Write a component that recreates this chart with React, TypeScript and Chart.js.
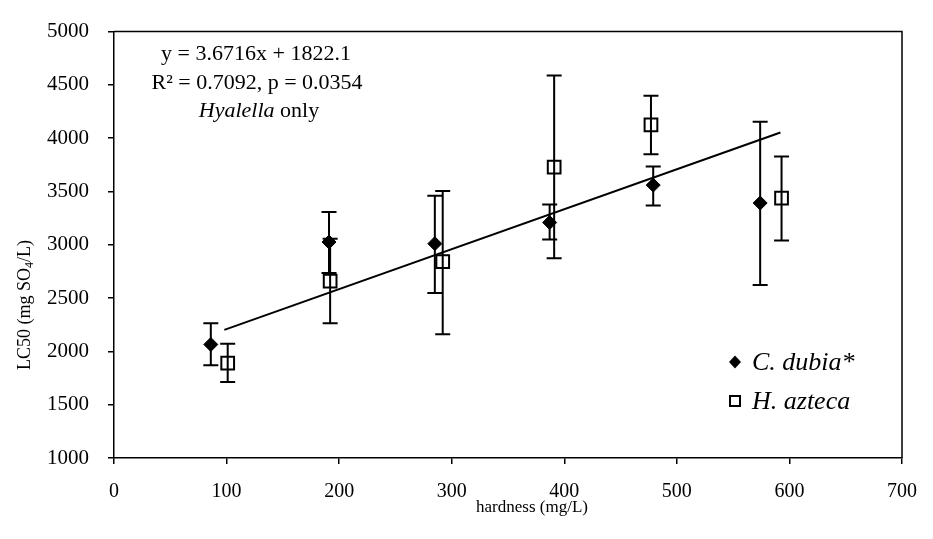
import React, { useEffect, useRef } from 'react';
import { Chart, registerables } from 'chart.js';

Chart.register(...registerables);

// ---- data ----
const dubiaHardness = [86, 191, 285, 387, 479, 574];
const dubiaLC50 = [2065, 3026, 3011, 3209, 3560, 3392];
const dubiaLow = [1870, 2736, 2547, 3050, 3368, 2623];
const dubiaHigh = [2263, 3307, 3460, 3377, 3734, 4155];

const aztecaHardness = [101, 192, 292, 391, 477, 593];
const aztecaLC50 = [1891, 2660, 2843, 3728, 4124, 3438];
const aztecaLow = [1714, 2263, 2162, 2874, 3849, 3041];
const aztecaHigh = [2071, 3057, 3505, 4588, 4399, 3828];

const trendHardness = [98, 592];
const trendLC50 = [2202, 4054];

const xTickValues = [0, 100, 200, 300, 400, 500, 600, 700];
const yTickValues = [1000, 1500, 2000, 2500, 3000, 3500, 4000, 4500, 5000];

const seriesNames = ['C. dubia*', 'H. azteca'];
const xTitle = 'hardness (mg/L)';
const eqLine = 'y = 3.6716x + 1822.1';
const r2Line = 'R\u00B2 = 0.7092, p = 0.0354';

const SERIF = '"Liberation Serif", "Times New Roman", serif';

export default function App() {
  const ref = useRef<HTMLCanvasElement | null>(null);

  useEffect(() => {
    const canvas = ref.current;
    if (!canvas) return;

    const errorBars = {
      id: 'errorBars',
      beforeDatasetsDraw(chart: any) {
        const { ctx, scales } = chart;
        const xs = scales.x;
        const ys = scales.y;
        ctx.save();
        ctx.strokeStyle = '#000';
        ctx.lineWidth = 2;
        const cap = 7.5;
        const draw = (hx: number[], lo: number[], hi: number[]) => {
          hx.forEach((v, i) => {
            const px = xs.getPixelForValue(v);
            const p1 = ys.getPixelForValue(lo[i]);
            const p2 = ys.getPixelForValue(hi[i]);
            ctx.beginPath();
            ctx.moveTo(px, p1);
            ctx.lineTo(px, p2);
            ctx.moveTo(px - cap, p1);
            ctx.lineTo(px + cap, p1);
            ctx.moveTo(px - cap, p2);
            ctx.lineTo(px + cap, p2);
            ctx.stroke();
          });
        };
        draw(dubiaHardness, dubiaLow, dubiaHigh);
        draw(aztecaHardness, aztecaLow, aztecaHigh);
        ctx.restore();
      },
    };

    const decorations = {
      id: 'decorations',
      afterDraw(chart: any) {
        const { ctx, chartArea } = chart;
        ctx.save();
        // frame top + right
        ctx.strokeStyle = '#000';
        ctx.lineWidth = 1.5;
        ctx.beginPath();
        ctx.moveTo(chartArea.left, chartArea.top);
        ctx.lineTo(chartArea.right, chartArea.top);
        ctx.lineTo(chartArea.right, chartArea.bottom);
        ctx.stroke();

        ctx.fillStyle = '#000';
        ctx.textBaseline = 'middle';

        // annotation
        ctx.textAlign = 'center';
        ctx.font = `22px ${SERIF}`;
        ctx.fillText(eqLine, 256, 54);
        ctx.fillText(r2Line, 257, 83);
        // "Hyalella only"
        ctx.font = `italic 22px ${SERIF}`;
        const w1 = ctx.measureText('Hyalella').width;
        ctx.font = `22px ${SERIF}`;
        const w2 = ctx.measureText(' only').width;
        const startX = 259 - (w1 + w2) / 2;
        ctx.textAlign = 'left';
        ctx.font = `italic 22px ${SERIF}`;
        ctx.fillText('Hyalella', startX, 111);
        ctx.font = `22px ${SERIF}`;
        ctx.fillText(' only', startX + w1, 111);

        // legend
        const lx = 735;
        const ly1 = 362;
        const ly2 = 401;
        ctx.beginPath();
        ctx.moveTo(lx - 6, ly1);
        ctx.lineTo(lx, ly1 - 6.5);
        ctx.lineTo(lx + 6, ly1);
        ctx.lineTo(lx, ly1 + 6.5);
        ctx.closePath();
        ctx.fill();
        ctx.lineWidth = 2;
        ctx.strokeRect(lx - 5, ly2 - 5, 10, 10);
        ctx.font = `italic 26px ${SERIF}`;
        ctx.textAlign = 'left';
        ctx.fillText(seriesNames[0], 752, ly1 + 1);
        ctx.fillText(seriesNames[1], 752, ly2 + 1);

        // x axis title
        ctx.font = `17px ${SERIF}`;
        ctx.textAlign = 'center';
        ctx.fillText(xTitle, 532, 508);

        // y axis title with subscript
        ctx.translate(25, 305);
        ctx.rotate(-Math.PI / 2);
        ctx.font = `18px ${SERIF}`;
        const a = 'LC50 (mg SO';
        const c = '/L)';
        const wa = ctx.measureText(a).width;
        const wc = ctx.measureText(c).width;
        ctx.font = `12px ${SERIF}`;
        const wb = ctx.measureText('4').width;
        const total = wa + wb + wc;
        let sx = -total / 2;
        ctx.textAlign = 'left';
        ctx.font = `18px ${SERIF}`;
        ctx.fillText(a, sx, 0);
        sx += wa;
        ctx.font = `12px ${SERIF}`;
        ctx.fillText('4', sx, 5);
        sx += wb;
        ctx.font = `18px ${SERIF}`;
        ctx.fillText(c, sx, 0);
        ctx.restore();
      },
    };

    const chart = new Chart(canvas, {
      type: 'scatter',
      data: {
        datasets: [
          {
            label: seriesNames[0],
            data: dubiaHardness.map((x, i) => ({ x, y: dubiaLC50[i] })),
            pointStyle: 'rectRot',
            pointRadius: 7,
            backgroundColor: '#000',
            borderColor: '#000',
            borderWidth: 1,
          },
          {
            label: seriesNames[1],
            data: aztecaHardness.map((x, i) => ({ x, y: aztecaLC50[i] })),
            pointStyle: 'rect',
            pointRadius: 9,
            backgroundColor: 'rgba(0,0,0,0)',
            borderColor: '#000',
            borderWidth: 2,
          },
          {
            type: 'line',
            label: 'trend',
            data: trendHardness.map((x, i) => ({ x, y: trendLC50[i] })),
            borderColor: '#000',
            borderWidth: 2,
            pointRadius: 0,
            showLine: true,
            fill: false,
          } as any,
        ],
      },
      options: {
        responsive: false,
        animation: false,
        events: [],
        layout: { padding: { left: 0, top: 21, right: 20, bottom: 0 } },
        plugins: {
          legend: { display: false },
          tooltip: { enabled: false },
        },
        scales: {
          x: {
            type: 'linear',
            min: 0,
            max: 700,
            afterBuildTicks: (s: any) => {
              s.ticks = xTickValues.map((v) => ({ value: v }));
            },
            ticks: {
              color: '#000',
              font: { family: SERIF, size: 20 },
              padding: 16,
              maxRotation: 0,
              callback: (v: any) => String(v),
            },
            grid: {
              drawOnChartArea: false,
              drawTicks: true,
              tickLength: 6,
              color: '#000',
              lineWidth: 1.5,
            },
            border: { display: true, color: '#000', width: 1.5 },
            afterFit: (s: any) => {
              s.height = 81;
            },
          },
          y: {
            type: 'linear',
            min: 1000,
            max: 5000,
            afterBuildTicks: (s: any) => {
              s.ticks = yTickValues.map((v) => ({ value: v }));
            },
            ticks: {
              color: '#000',
              font: { family: SERIF, size: 21 },
              padding: 19,
              callback: (v: any) => String(v),
            },
            grid: {
              drawOnChartArea: false,
              drawTicks: true,
              tickLength: 6,
              color: '#000',
              lineWidth: 1.5,
            },
            border: { display: true, color: '#000', width: 1.5 },
            afterFit: (s: any) => {
              s.width = 114;
            },
          },
        },
      },
      plugins: [errorBars, decorations],
    });

    return () => chart.destroy();
  }, []);

  return (
    <div style={{ position: 'fixed', left: 0, top: 0, width: 933, height: 539, background: '#fff' }}>
      <canvas ref={ref} width={933} height={539} style={{ display: 'block', width: 933, height: 539 }} />
    </div>
  );
}
